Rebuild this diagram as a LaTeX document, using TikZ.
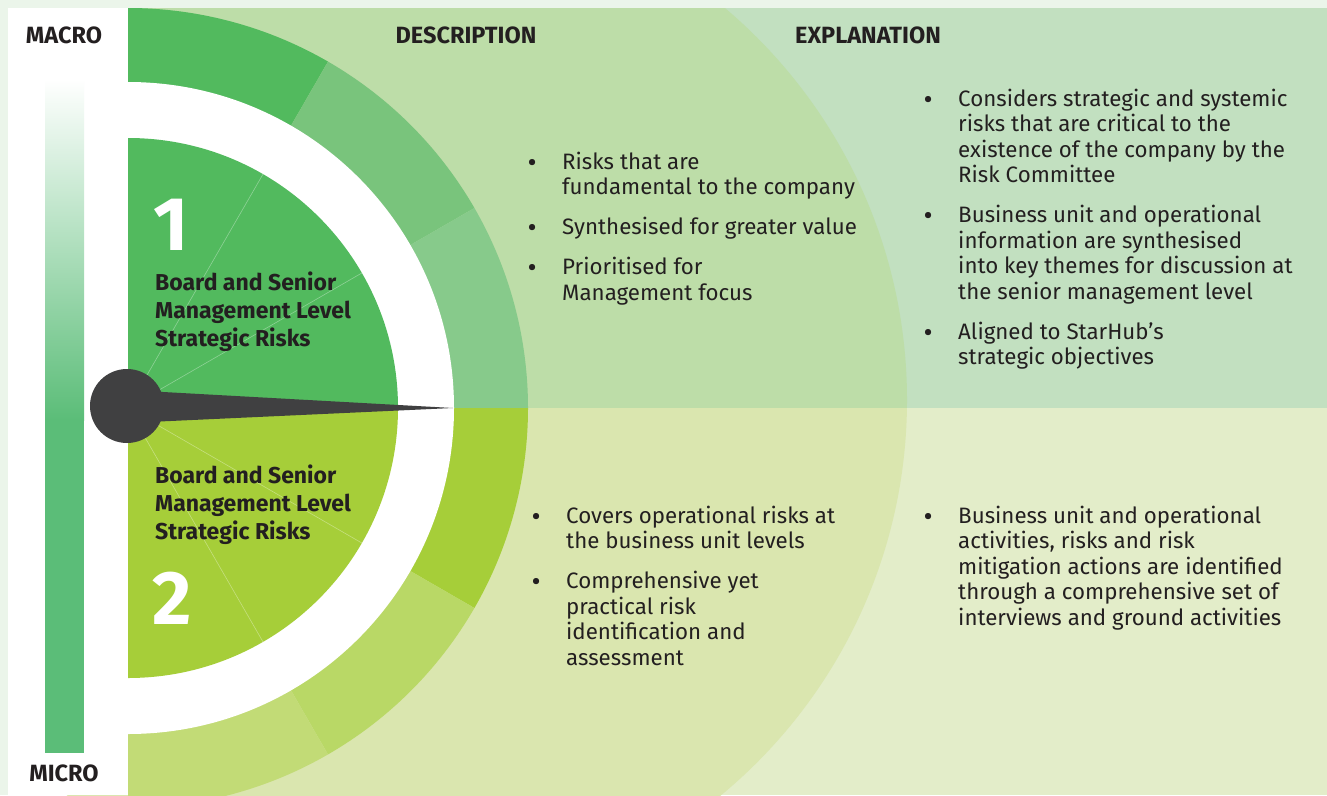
\documentclass[tikz,border=0pt]{standalone}
\usepackage{fontspec}
\setmainfont{Fira Sans}
\newfontfamily\bulfont{PT Sans}
\usetikzlibrary{positioning}

\definecolor{frame}{HTML}{EBF5EA}
\definecolor{descTop}{HTML}{BDDDA8}
\definecolor{explTop}{HTML}{C2E0C0}
\definecolor{descLow}{HTML}{DAE6AF}
\definecolor{explLow}{HTML}{E3EDC9}
\definecolor{greenA}{HTML}{52BA5E}
\definecolor{greenB}{HTML}{79C47C}
\definecolor{greenC}{HTML}{87CA8B}
\definecolor{limeA}{HTML}{A6CE39}
\definecolor{limeB}{HTML}{B9D866}
\definecolor{limeC}{HTML}{C2DB76}
\definecolor{barGreen}{HTML}{5BBD78}
\definecolor{needle}{HTML}{404041}
\definecolor{ink}{HTML}{231F20}

\newcommand{\rows}[1]{\begin{tabular}[t]{@{}l@{}}#1\end{tabular}}
\newcommand{\blist}[1]{\begin{tabular}[t]{@{}p{35pt}@{}l@{}}#1\end{tabular}}
\newcommand{\bul}{{\bulfont\textbullet}}

\begin{document}
\begin{tikzpicture}[x=1pt,y=-1pt,
    txt/.style={font=\fontsize{22.3}{25.5}\selectfont,text=ink,anchor=base west,inner sep=0pt},
    head/.style={font=\bfseries\fontsize{23.5}{28}\selectfont,text=ink,anchor=base,inner sep=0pt},
    lvl/.style={head,font=\bfseries\fontsize{23}{28}\selectfont,anchor=base west},
    num/.style={font=\bfseries\fontsize{76}{76}\selectfont,text=white,anchor=base west,inner sep=0pt},
    spoke/.style={white,opacity=0.35,line width=0.6pt}]

  \useasboundingbox (0,0) rectangle (1327,795);
  \clip (0,0) rectangle (1327,795);
  \fill[frame] (0,0) rectangle (1327,795);
  \fill[explTop] (8,8) rectangle (1327,408);
  \fill[explLow] (8,408) rectangle (1327,795);
  \begin{scope}
    \clip (8,8) rectangle (1327,408);
    \fill[descTop] (394,400) circle[radius=513];
  \end{scope}
  \begin{scope}
    \clip (8,408) rectangle (1327,795);
    \fill[descLow] (394,400) circle[radius=513];
  \end{scope}

  \coordinate (hub) at (128,408);

  % outer ring
  \fill[greenA] (hub) -- ++(-90:400) arc[start angle=-90,end angle=-60,radius=400] -- cycle;
  \fill[greenB] (hub) -- ++(-60:400) arc[start angle=-60,end angle=-30,radius=400] -- cycle;
  \fill[greenC] (hub) -- ++(-30:400) arc[start angle=-30,end angle=0,radius=400] -- cycle;
  \fill[limeA] (hub) -- ++(0:400) arc[start angle=0,end angle=30,radius=400] -- cycle;
  \fill[limeB] (hub) -- ++(30:400) arc[start angle=30,end angle=60,radius=400] -- cycle;
  \fill[limeC] (hub) -- ++(60:400) arc[start angle=60,end angle=90,radius=400] -- cycle;

  \fill[white] (hub) -- ++(-90:326) arc[start angle=-90,end angle=90,radius=326] -- cycle;

  % inner sectors
  \fill[greenA] (hub) -- ++(-90:270) arc[start angle=-90,end angle=0,radius=270] -- cycle;
  \fill[limeA] (hub) -- ++(0:270) arc[start angle=0,end angle=90,radius=270] -- cycle;
  \foreach \a in {-60,-30,30,60}
    \draw[spoke] (hub) -- ++(\a:270);

  % scale bar
  \fill[white] (8,8) rectangle (128,795);
  \shade[top color=white,bottom color=barGreen] (45,79) rectangle (84,420);
  \fill[barGreen] (45,419) rectangle (84,753);
  \node[head] (macro) at (64,43) {MACRO};
  \node[head] (micro) at (64,781) {MICRO};

  % needle
  \fill[needle] (127,390) -- (453,408) -- (127,423) -- cycle;
  \fill[needle] (127,406) circle[radius=37];

  \node[num] (one) at (153,250) {1};
  \node[lvl] (topLvl) at (155,290) {\rows{Board and Senior\\Management Level\\Strategic Risks}};
  \node[lvl] (lowLvl) at (155,483) {\rows{Board and Senior\\Management Level\\Strategic Risks}};
  \node[num] (two) at (152,624) {2};

  \node[head] (desc) at (466,43) {DESCRIPTION};
  \node[head] (expl) at (868,43) {EXPLANATION};

  \node[txt] (descTop) at (527,169) {\blist{%
    \bul & Risks that are\\ & fundamental to the company\\[14.5pt]
    \bul & Synthesised for greater value\\[14.5pt]
    \bul & Prioritised for\\ & Management focus}};
  \node[txt] (explTop) at (923,106) {\blist{%
    \bul & Considers strategic and systemic\\ & risks that are critical to the\\
      & existence of the company by the\\ & Risk Committee\\[14.5pt]
    \bul & Business unit and operational\\ & information are synthesised\\
      & into key themes for discussion at\\ & the senior management level\\[14.5pt]
    \bul & Aligned to StarHub’s\\ & strategic objectives}};
  \node[txt] (descLow) at (531,523) {\blist{%
    \bul & Covers operational risks at\\ & the business unit levels\\[14.5pt]
    \bul & Comprehensive yet\\ & practical risk\\ & identification and\\ & assessment}};
  \node[txt] (explLow) at (923,523) {\blist{%
    \bul & Business unit and operational\\ & activities, risks and risk\\
      & mitigation actions are identified\\ & through a comprehensive set of\\
      & interviews and ground activities}};

\end{tikzpicture}
\end{document}
